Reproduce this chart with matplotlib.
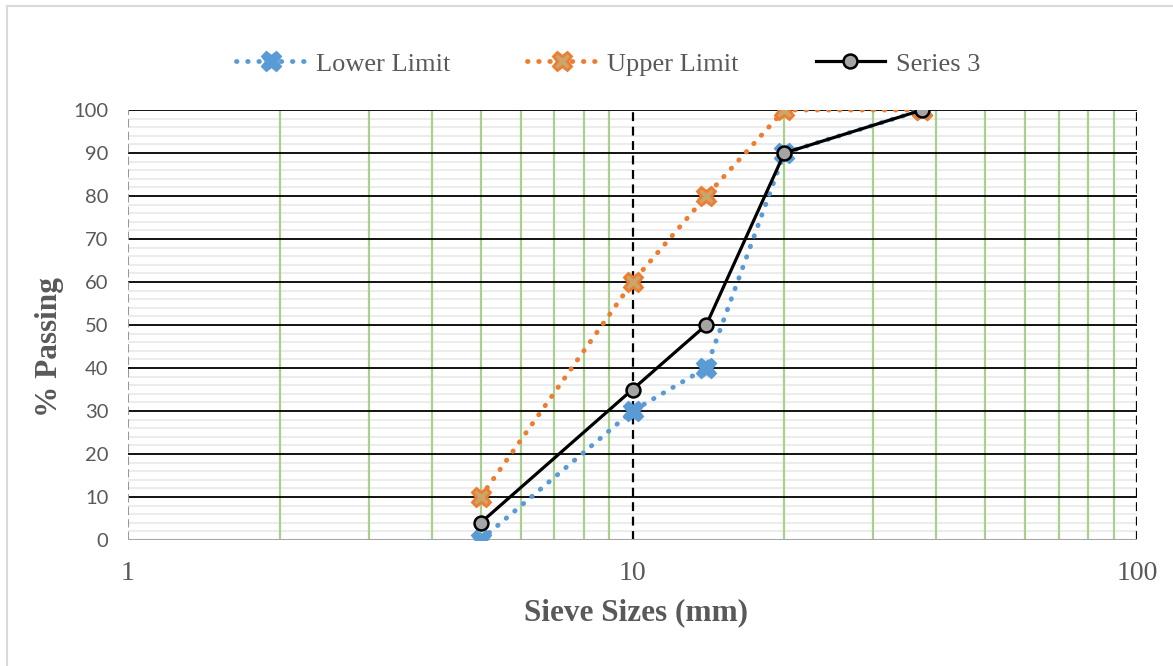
import matplotlib
matplotlib.use("Agg")
import matplotlib.pyplot as plt
from matplotlib.lines import Line2D

sieve_mm = [5, 10, 14, 20, 37.5]
lower_limit = [0, 30, 40, 90, 100]
upper_limit = [10, 60, 80, 100, 100]
series3 = [4, 35, 50, 90, 100]

plt.rcParams['font.family'] = ['Liberation Serif', 'DejaVu Serif']
W, H = 1173, 666
TXT = '#595959'

fig = plt.figure(figsize=(W / 100, H / 100), dpi=100)
ax = fig.add_axes([128 / W, 1 - 540 / H, (1137 - 128) / W, (540 - 110) / H])

ax.set_xscale('log')
ax.set_xlim(1, 100)
ax.set_ylim(0, 100)

# horizontal grid: light minor lines every 2, black major lines every 10
for y in range(2, 100, 2):
    if y % 10:
        ax.axhline(y, color='#ececec', lw=1.5, zorder=0)
for y in range(10, 101, 10):
    ax.axhline(y, color='black', lw=1.3, zorder=1)

# vertical grid: green minor decades, dashed black majors
for dec in (1, 10):
    for m in range(2, 10):
        ax.axvline(dec * m, color='#a9d18e', lw=1.6, zorder=0.5)
ax.axvline(1, color='#999999', lw=1.5, ls=(0, (4, 2)), zorder=1)
ax.axvline(10, color='black', lw=1.6, ls=(0, (4, 2.5)), zorder=1)
ax.axvline(100, color='black', lw=1.6, ls=(0, (4, 2.5)), zorder=1)

for s in ax.spines.values():
    s.set_visible(False)
ax.axhline(0, color='#a6a6a6', lw=1.5, zorder=1.5)

dotted = dict(ls=(0, (0.1, 2.2)), dash_capstyle='round', lw=3.5)
ax.plot(sieve_mm, lower_limit, color='#5b9bd5', marker='X', markersize=13,
        markerfacecolor='#5b9bd5', markeredgecolor='#5b9bd5', markeredgewidth=2,
        label='Lower Limit', zorder=3, **dotted)
ax.plot(sieve_mm, upper_limit, color='#ed7d31', marker='X', markersize=13,
        markerfacecolor='#c9a66b', markeredgecolor='#ed7d31', markeredgewidth=2,
        label='Upper Limit', zorder=3, **dotted)
ax.plot(sieve_mm, series3, '-', color='black', lw=2.3, marker='o', markersize=10,
        markerfacecolor='#a5a5a5', markeredgecolor='black', markeredgewidth=1.8,
        label='Series 3', zorder=4)

ax.set_yticks(range(0, 101, 10))
ax.set_xticks([1, 10, 100])
ax.set_xticklabels(['1', '10', '100'])
ax.xaxis.set_minor_locator(matplotlib.ticker.NullLocator())
ax.tick_params(axis='both', length=0, colors=TXT)
ax.tick_params(axis='y', pad=14, labelsize=14.5)
ax.tick_params(axis='x', pad=15, labelsize=20)
for lab in ax.get_yticklabels():
    lab.set_family(['Lato', 'DejaVu Sans'])

ax.set_xlabel('Sieve Sizes (mm)', fontsize=22.5, fontweight='bold', color=TXT)
ax.set_ylabel('% Passing', fontsize=22.5, fontweight='bold', color=TXT)
ax.xaxis.label.set_va('center')
ax.yaxis.label.set_va('center')
ax.xaxis.set_label_coords((636 - 128) / 1009, (540 - 613) / 430)
ax.yaxis.set_label_coords((50 - 128) / 1009, (540 - 347) / 430)

leg = fig.legend(loc='center', bbox_to_anchor=(608 / W, 1 - 64 / H), ncol=3, frameon=False,
                 fontsize=19, handlelength=2.65, columnspacing=2.9, handletextpad=0.4)
for t in leg.get_texts():
    t.set_color(TXT)

# outer chart frame (top and left edges in view)
fig.add_artist(Line2D([7 / W, 7 / W], [0, 1 - 6 / H], transform=fig.transFigure,
                      color='#d9d9d9', lw=1.5))
fig.add_artist(Line2D([7 / W, 1], [1 - 6 / H, 1 - 6 / H], transform=fig.transFigure,
                      color='#d9d9d9', lw=1.5))

fig.savefig('out.png', dpi=100)
